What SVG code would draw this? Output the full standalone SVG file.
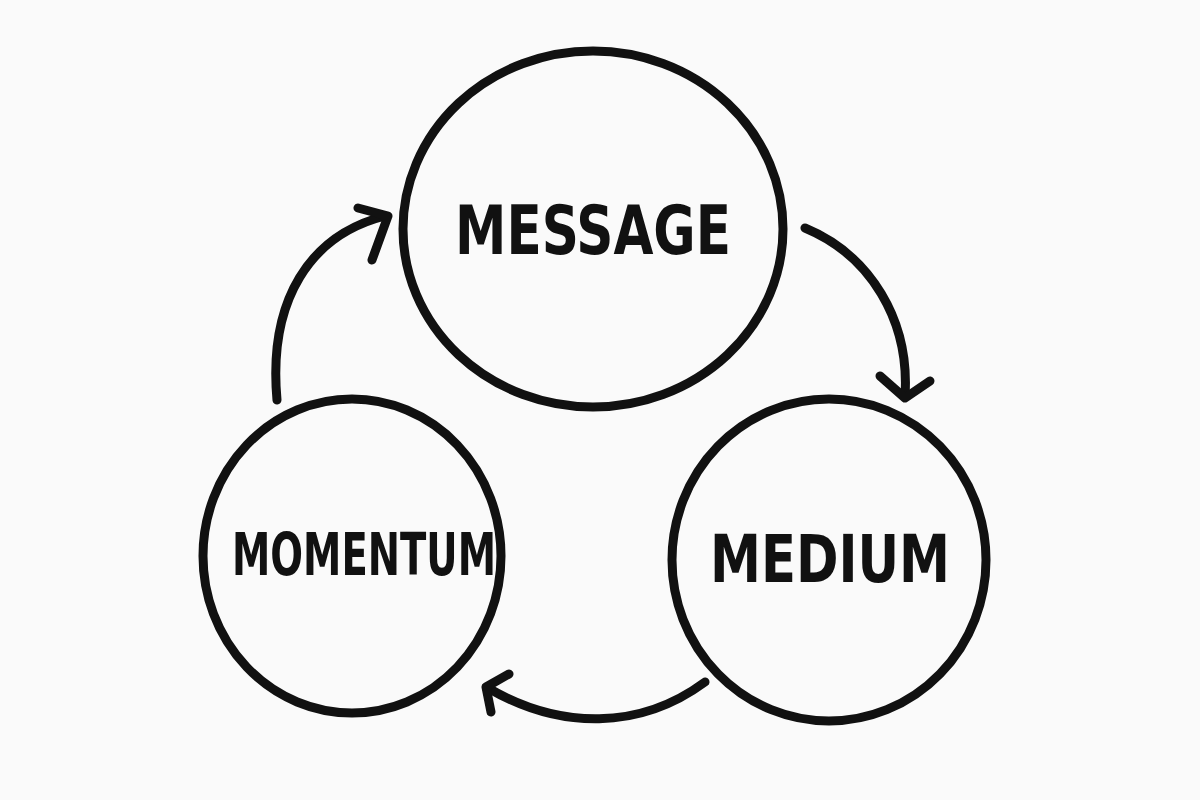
<svg xmlns="http://www.w3.org/2000/svg" width="1200" height="800" viewBox="0 0 1200 800">
<style>
.n{fill:none;stroke:#111;stroke-width:9}
.c{fill:none;stroke:#111;stroke-width:9;stroke-linecap:round;stroke-linejoin:round}
text{font-family:"DejaVu Sans","Liberation Sans",sans-serif;font-weight:bold;font-stretch:condensed;fill:#111;text-anchor:middle}
</style>
<rect width="1200" height="800" fill="#fafafa"/>
<g id="message"><ellipse class="n" cx="593" cy="229" rx="190" ry="178"/><text x="593" y="254" font-size="68" textLength="276" lengthAdjust="spacingAndGlyphs">MESSAGE</text></g>
<g id="momentum"><ellipse class="n" cx="352" cy="556" rx="149" ry="157"/><text x="364" y="575" font-size="58" textLength="264" lengthAdjust="spacingAndGlyphs">MOMENTUM</text></g>
<g id="medium"><ellipse class="n" cx="829" cy="560" rx="157" ry="161"/><text x="830" y="582" font-size="66" textLength="240" lengthAdjust="spacingAndGlyphs">MEDIUM</text></g>
<g id="connectors">
<path class="c" d="M277,400 C268,300 310,235 385,216"/>
<path class="c" d="M358,208 L388,216 L372,260"/>
<path class="c" d="M805,228 C870,255 910,320 905,396"/>
<path class="c" d="M880,376 L905,398 L930,381"/>
<path class="c" d="M705,682 C640,730 560,730 488,688"/>
<path class="c" d="M509,674 L486,687 L491,712"/>
</g>
</svg>
